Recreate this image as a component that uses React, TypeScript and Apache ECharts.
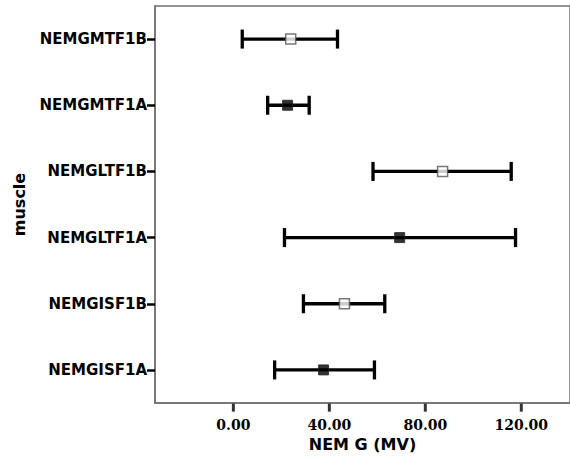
import React, { useEffect, useRef } from "react";
import * as echarts from "echarts";

const categories = ["NEMGISF1A", "NEMGISF1B", "NEMGLTF1A", "NEMGLTF1B", "NEMGMTF1A", "NEMGMTF1B"];
const means = [37.6, 46.3, 69.3, 87.2, 22.6, 23.9];
const lower = [17.2, 29.2, 21.3, 58.2, 14.3, 3.7];
const upper = [58.8, 63.1, 117.6, 115.8, 31.6, 43.4];
const filled = [true, false, true, false, true, false];
const xTicks = [0, 40, 80, 120];

export default function App() {
  const ref = useRef<HTMLDivElement>(null);
  useEffect(() => {
    if (!ref.current) return;
    const chart = echarts.init(ref.current, null, { renderer: "svg" });
    const errData = categories.map((c, i) => [i, lower[i], upper[i]]);
    const meanData = categories.map((c, i) => ({
      value: [means[i], i],
      itemStyle: filled[i]
        ? { color: "#000", borderColor: "#222", borderWidth: 1 }
        : { color: "#fff", borderColor: "#555", borderWidth: 1.5 },
    }));
    chart.setOption({
      animation: false,
      grid: {
        left: 155,
        top: 6,
        width: 420,
        height: 397,
        show: true,
        borderColor: "#707070",
        borderWidth: 1.5,
      },
      xAxis: {
        type: "value",
        min: -32.66,
        max: 140.3,
        splitLine: { show: false },
        axisLine: { show: true, onZero: false, lineStyle: { color: "#707070", width: 1.5 } },
        axisTick: { show: false },
        axisLabel: {
          customValues: xTicks,
          formatter: (v: number) => v.toFixed(2),
          margin: 15,
          fontFamily: "DejaVu Serif",
          fontWeight: "bold",
          fontSize: 14,
          color: "#000",
        },
        name: "NEM G (MV)",
        nameLocation: "middle",
        nameGap: 29,
        nameTextStyle: {
          fontFamily: "DejaVu Sans",
          fontWeight: "bold",
          fontSize: 16,
          color: "#000",
        },
      },
      yAxis: {
        type: "category",
        data: categories,
        axisLine: { show: true, onZero: false, lineStyle: { color: "#707070", width: 1.5 } },
        axisTick: {
          show: true,
          alignWithLabel: true,
          length: 8,
          lineStyle: { color: "#000", width: 2.5 },
        },
        axisLabel: {
          margin: 8,
          fontFamily: "DejaVu Sans",
          fontWeight: "bold",
          fontSize: 15,
          color: "#000",
        },
        name: "muscle",
        nameLocation: "middle",
        nameGap: 128,
        nameTextStyle: {
          fontFamily: "DejaVu Sans",
          fontWeight: "bold",
          fontSize: 16,
          color: "#000",
        },
      },
      series: [
        {
          type: "custom",
          data: errData,
          encode: { x: [1, 2], y: 0 },
          renderItem: (params: any, api: any) => {
            const idx = api.value(0);
            const lo = api.coord([api.value(1), idx]);
            const hi = api.coord([api.value(2), idx]);
            const h = 9.5;
            const style = { stroke: "#000", lineWidth: 3.3 };
            return {
              type: "group",
              children: [
                { type: "line", shape: { x1: lo[0], y1: lo[1], x2: hi[0], y2: hi[1] }, style },
                { type: "line", shape: { x1: lo[0], y1: lo[1] - h, x2: lo[0], y2: lo[1] + h }, style },
                { type: "line", shape: { x1: hi[0], y1: hi[1] - h, x2: hi[0], y2: hi[1] + h }, style },
              ],
            };
          },
          z: 2,
        },
        {
          type: "scatter",
          symbol: "rect",
          symbolSize: 10,
          data: meanData,
          z: 3,
        },
        {
          type: "scatter",
          name: "xticks",
          symbol: "rect",
          symbolSize: [3, 8],
          symbolOffset: [0, 37.75],
          clip: false,
          silent: true,
          data: xTicks.map((v) => [v, 0]),
          itemStyle: { color: "#000" },
          z: 10,
        },
      ],
    });
    return () => chart.dispose();
  }, []);
  return (
    <div
      ref={ref}
      style={{ position: "absolute", left: 0, top: 0, width: 570, height: 474 }}
    />
  );
}
